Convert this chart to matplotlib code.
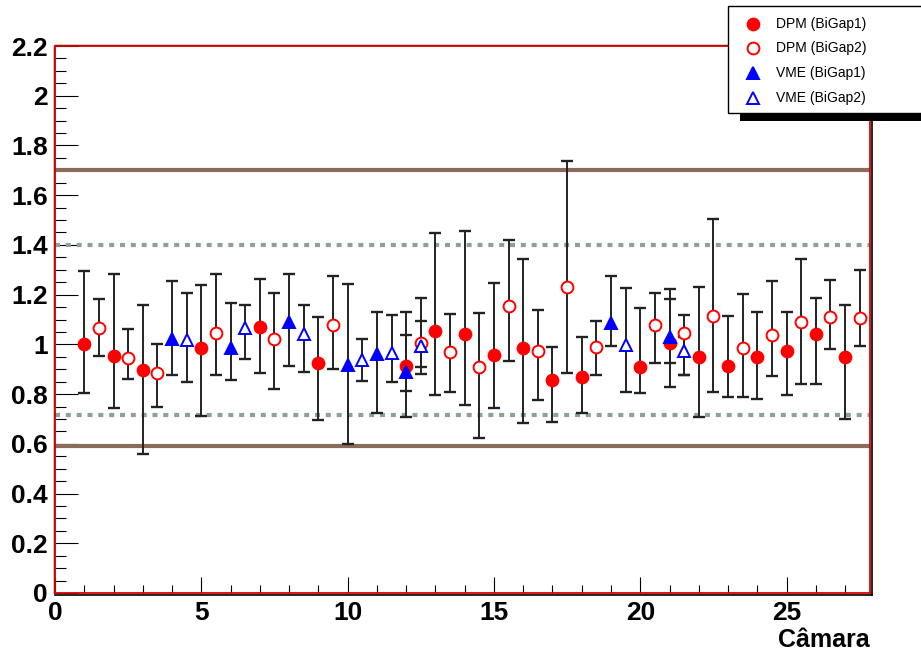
"""
Ratio per chamber (Câmara) for DPM and VME readouts, BiGap1 and BiGap2.
ROOT-like style: red frame with black shadow, bold tick labels.
"""

import matplotlib
matplotlib.use('Agg')
import matplotlib.pyplot as plt
from matplotlib.lines import Line2D
from matplotlib.patches import Rectangle
from matplotlib.ticker import MultipleLocator, FormatStrFormatter

plt.rcParams['font.family'] = ['Liberation Sans', 'DejaVu Sans']

# DPM BiGap1 (filled circles)
dpm1_x = [1, 2, 3, 5, 7, 9, 12, 13, 14, 15, 16, 17, 18, 20, 21, 22, 23, 24, 25, 26, 27]
dpm1_y = [1.002, 0.953, 0.897, 0.986, 1.071, 0.924, 0.912, 1.055, 1.042, 0.957, 0.984,
          0.857, 0.870, 0.910, 1.007, 0.948, 0.912, 0.949, 0.973, 1.043, 0.948]
dpm1_hi = [1.296, 1.283, 1.160, 1.240, 1.264, 1.111, 1.130, 1.448, 1.456, 1.248, 1.345,
           0.991, 1.031, 1.148, 1.223, 1.231, 1.114, 1.132, 1.129, 1.185, 1.160]
dpm1_lo = [0.806, 0.745, 0.558, 0.712, 0.884, 0.696, 0.709, 0.796, 0.756, 0.743, 0.683,
           0.688, 0.723, 0.806, 0.830, 0.708, 0.788, 0.780, 0.798, 0.842, 0.701]

# DPM BiGap2 (open circles)
dpm2_x = [1.5, 2.5, 3.5, 5.5, 7.5, 9.5, 12.5, 13.5, 14.5, 15.5, 16.5, 17.5, 18.5, 20.5,
          21.5, 22.5, 23.5, 24.5, 25.5, 26.5, 27.5]
dpm2_y = [1.066, 0.945, 0.886, 1.045, 1.023, 1.079, 1.004, 0.969, 0.910, 1.154, 0.975,
          1.231, 0.991, 1.077, 1.045, 1.114, 0.987, 1.038, 1.090, 1.111, 1.107]
dpm2_hi = [1.181, 1.061, 1.002, 1.284, 1.206, 1.275, 1.188, 1.121, 1.128, 1.419, 1.138,
           1.739, 1.094, 1.206, 1.117, 1.504, 1.202, 1.256, 1.345, 1.259, 1.299]
dpm2_lo = [0.953, 0.861, 0.747, 0.876, 0.819, 0.900, 0.881, 0.810, 0.622, 0.934, 0.775,
           0.884, 0.877, 0.924, 0.876, 0.809, 0.788, 0.874, 0.841, 0.983, 0.995]

# VME BiGap1 (filled triangles)
vme1_x = [4, 6, 8, 10, 11, 12, 19, 21]
vme1_y = [1.021, 0.987, 1.090, 0.918, 0.963, 0.889, 1.087, 1.031]
vme1_hi = [1.255, 1.165, 1.283, 1.243, 1.130, 1.037, 1.274, 1.184]
vme1_lo = [0.876, 0.857, 0.913, 0.599, 0.725, 0.813, 0.994, 0.924]

# VME BiGap2 (open triangles)
vme2_x = [4.5, 6.5, 8.5, 10.5, 11.5, 12.5, 19.5, 21.5]
vme2_y = [1.018, 1.066, 1.042, 0.937, 0.967, 0.995, 0.998, 0.973]
vme2_hi = [1.206, 1.160, 1.160, 1.021, 1.117, 1.094, 1.226, 1.031]
vme2_lo = [0.849, 0.940, 0.889, 0.853, 0.849, 0.908, 0.810, 0.876]

# reference lines
solid_levels = [1.70, 0.59]
dashed_levels = [1.40, 0.716]

labels = ['DPM (BiGap1)', 'DPM (BiGap2)', 'VME (BiGap1)', 'VME (BiGap2)']

BROWN = '#8c6a5c'
DASHGREEN = '#8aa493'


def draw_series(ax, x, y, hi, lo, marker, color, filled):
    yerr = [[v - l for v, l in zip(y, lo)], [h - v for v, h in zip(y, hi)]]
    ax.errorbar(x, y, yerr=yerr, fmt='none', ecolor='#222222', elinewidth=1.4,
                capsize=4, capthick=1.7, zorder=3)
    face = color if filled else 'white'
    ax.plot(x, y, linestyle='none', marker=marker, markersize=8.5,
            markerfacecolor=face, markeredgecolor=color, markeredgewidth=1.4, zorder=4)


fig = plt.figure(figsize=(9.21, 6.52), dpi=100)
ax = fig.add_axes([55 / 921, 59 / 652, 815 / 921, 547 / 652])

for lvl in solid_levels:
    ax.axhline(lvl, color=BROWN, linewidth=3.0, zorder=2)
for lvl in dashed_levels:
    ax.axhline(lvl, color=DASHGREEN, linewidth=3.0, linestyle=(0, (1.2, 1.4)), zorder=2)

draw_series(ax, dpm1_x, dpm1_y, dpm1_hi, dpm1_lo, 'o', '#ff0000', True)
draw_series(ax, dpm2_x, dpm2_y, dpm2_hi, dpm2_lo, 'o', '#ff0000', False)
draw_series(ax, vme1_x, vme1_y, vme1_hi, vme1_lo, '^', '#0000ff', True)
draw_series(ax, vme2_x, vme2_y, vme2_hi, vme2_lo, '^', '#0000ff', False)

ax.set_xlim(0, 27.85)
ax.set_ylim(0, 2.2)

# axis ticks, ROOT style (inward, major + minor)
ax.xaxis.set_major_locator(MultipleLocator(5))
ax.xaxis.set_minor_locator(MultipleLocator(1))
ax.yaxis.set_major_locator(MultipleLocator(0.2))
ax.yaxis.set_minor_locator(MultipleLocator(0.05))
ax.yaxis.set_major_formatter(FormatStrFormatter('%g'))
ax.xaxis.set_major_formatter(FormatStrFormatter('%g'))
ax.tick_params(axis='x', which='major', direction='in', length=11.5, width=0.8,
               color='black', pad=6, labelsize=19)
ax.tick_params(axis='x', which='minor', direction='in', length=5.8, width=0.8, color='black')
ax.tick_params(axis='y', which='major', direction='in', length=16.5, width=0.8,
               color='black', pad=5, labelsize=19)
ax.tick_params(axis='y', which='minor', direction='in', length=8, width=0.8, color='black')
for lab in ax.get_xticklabels() + ax.get_yticklabels():
    lab.set_fontweight('bold')

# red frame with black shadow
for side in ['left', 'right', 'top', 'bottom']:
    ax.spines[side].set_color('#dd0000')
    ax.spines[side].set_linewidth(1.3)
    ax.spines[side].set_zorder(6)
ax.add_line(Line2D([0, 1.002], [-0.003, -0.003], transform=ax.transAxes, color='black',
                   linewidth=1.2, clip_on=False, zorder=5))
ax.add_line(Line2D([1.002, 1.002], [-0.003, 1.0], transform=ax.transAxes, color='black',
                   linewidth=1.2, clip_on=False, zorder=5))
ax.add_line(Line2D([0, 1], [1.002, 1.002], transform=ax.transAxes, color='black',
                   linewidth=1.0, clip_on=False, zorder=5))
ax.add_line(Line2D([-0.001, -0.001], [0, 1], transform=ax.transAxes, color='black',
                   linewidth=1.0, clip_on=False, zorder=5))

fig.text(870 / 921, 12 / 652, 'Câmara', ha='right', va='center', fontsize=18,
         fontweight='bold')

# legend box with shadow, partly outside the canvas
shadow = Rectangle((740 / 921, 531 / 652), 0.3, 8 / 652, transform=fig.transFigure,
                   facecolor='black', edgecolor='none', zorder=9)
box = Rectangle((728 / 921, 539 / 652), 0.3, 107 / 652, transform=fig.transFigure,
                facecolor='white', edgecolor='black', linewidth=1.0, zorder=10)
fig.add_artist(shadow)
fig.add_artist(box)

leg_styles = [('o', '#ff0000', True), ('o', '#ff0000', False),
              ('^', '#0000ff', True), ('^', '#0000ff', False)]
row_y = [24, 48, 73, 98]
for (mk, col, filled), lab, ry in zip(leg_styles, labels, row_y):
    yy = 1 - ry / 652
    fig.add_artist(Line2D([753 / 921], [yy], transform=fig.transFigure, marker=mk,
                          markersize=8.5, linestyle='none', markeredgecolor=col,
                          markerfacecolor=col if filled else 'white',
                          markeredgewidth=1.4, zorder=11))
    fig.text(776 / 921, yy, lab, ha='left', va='center', fontsize=10, zorder=11)

fig.savefig('out.png', dpi=100)
